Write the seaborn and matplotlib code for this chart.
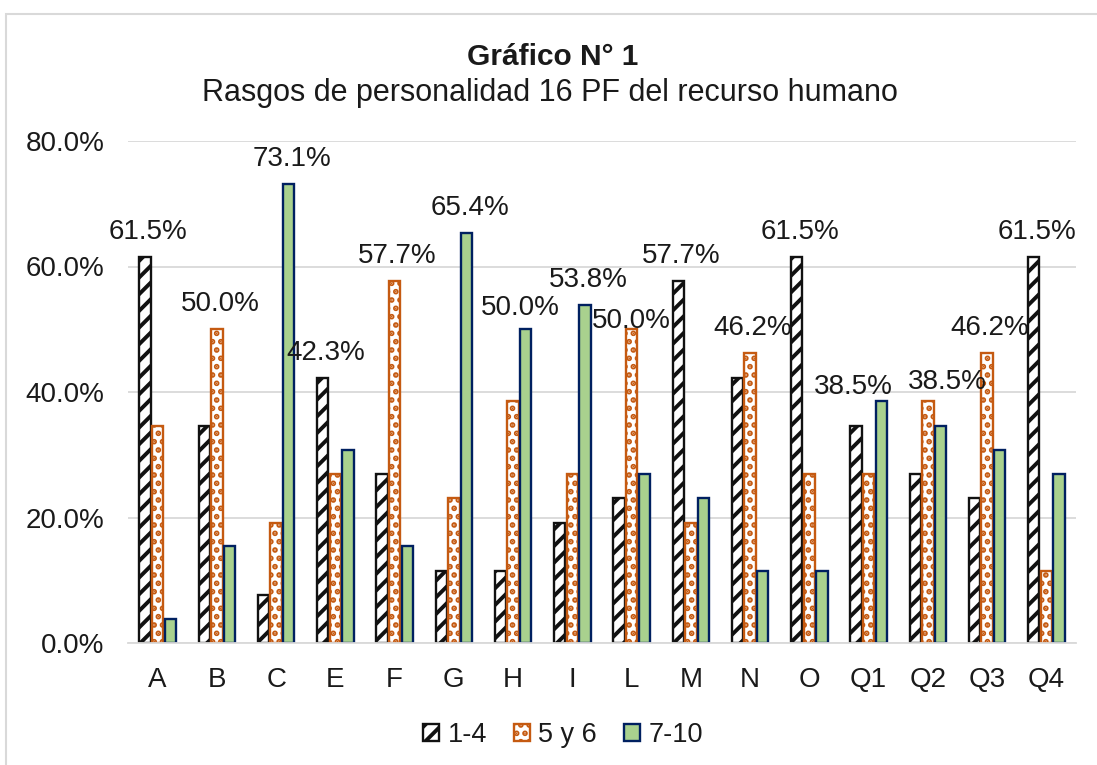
import matplotlib
matplotlib.use("Agg")
import matplotlib.pyplot as plt
from matplotlib.patches import Rectangle
from matplotlib.ticker import FuncFormatter
import seaborn as sns
import pandas as pd

# data (share of staff per score band)
factors = ["A", "B", "C", "E", "F", "G", "H", "I", "L", "M", "N", "O", "Q1", "Q2", "Q3", "Q4"]
bands = ["1-4", "5 y 6", "7-10"]
low = [61.5, 34.6, 7.7, 42.3, 26.9, 11.5, 11.5, 19.2, 23.1, 57.7, 42.3, 61.5, 34.6, 26.9, 23.1, 61.5]
mid = [34.6, 50.0, 19.2, 26.9, 57.7, 23.1, 38.5, 26.9, 50.0, 19.2, 46.2, 26.9, 26.9, 38.5, 46.2, 11.5]
high = [3.8, 15.4, 73.1, 30.8, 15.4, 65.4, 50.0, 53.8, 26.9, 23.1, 11.5, 11.5, 38.5, 34.6, 30.8, 26.9]

title = "Gráfico N° 1"
subtitle = "Rasgos de personalidad 16 PF del recurso humano"

rows = []
for band, vals in zip(bands, [low, mid, high]):
    for f, v in zip(factors, vals):
        rows.append({"factor": f, "band": band, "value": v / 100})
df = pd.DataFrame(rows)

sns.set_theme(style="white")
plt.rcParams["font.family"] = ["Liberation Sans", "DejaVu Sans"]
plt.rcParams["hatch.linewidth"] = 2.8

fig = plt.figure(figsize=(10.97, 7.65), dpi=100)
ax = fig.add_axes([128 / 1097, 1 - 643 / 765, (1076 - 128) / 1097, (643 - 141) / 765])

face = {"1-4": "white", "5 y 6": "white", "7-10": "#A9D18E"}
sns.barplot(data=df, x="factor", y="value", hue="band", order=factors, hue_order=bands,
            palette=face, width=0.64, gap=0.1, legend=False, ax=ax, saturation=1)

edge = ["#111111", "#C55A11", "#002060"]
hatches = ["//", "..", None]
for cont, ec, h in zip(ax.containers, edge, hatches):
    for p in cont.patches:
        p.set_edgecolor(ec)
        p.set_linewidth(1.7)
        if h:
            p.set_hatch(h)

ax.set_ylim(0, 0.8)
ax.set_xlim(-0.5, len(factors) - 0.5)
ax.set_yticks([0, 0.2, 0.4, 0.6, 0.8])
ax.yaxis.set_major_formatter(FuncFormatter(lambda v, _: f"{v * 100:.1f}%"))
ax.grid(axis="y", color="#D9D9D9", linewidth=1.3)
ax.set_axisbelow(True)
for s in ["top", "right", "left"]:
    ax.spines[s].set_visible(False)
ax.spines["bottom"].set_color("#D9D9D9")
ax.spines["bottom"].set_linewidth(1.3)
ax.tick_params(axis="both", length=0, labelsize=20, colors="#1a1a1a")
ax.tick_params(axis="y", pad=17)
ax.tick_params(axis="x", pad=17)
ax.set_xlabel("")
ax.set_ylabel("")

# label only the tallest bar in each group, a few nudged like the original
nudge = {"H": (-5, 21), "L": (0, 8), "Q1": (-28, 14), "Q2": (19, 19)}
for i, f in enumerate(factors):
    vals = [low[i], mid[i], high[i]]
    k = vals.index(max(vals))
    p = ax.containers[k].patches[i]
    dx, dy = nudge.get(f, (3, 25))
    ax.annotate(f"{vals[k]:.1f}%", (p.get_x() + p.get_width() / 2, p.get_height()),
                xytext=(dx, dy), textcoords="offset pixels", ha="center", va="center",
                fontsize=20, color="#1a1a1a")

fig.text(553 / 1097, 1 - 57 / 765, title, ha="center", va="center",
         fontsize=21.5, fontweight="bold", color="#1a1a1a")
fig.text(550 / 1097, 1 - 93 / 765, subtitle, ha="center", va="center",
         fontsize=22, color="#1a1a1a")

fig.legend(ax.containers, bands, loc="center", bbox_to_anchor=(563 / 1097, 1 - 735 / 765),
           ncol=3, frameon=False, fontsize=19.5, handlelength=0.6, handleheight=0.6,
           handletextpad=0.3, columnspacing=1.0, labelcolor="#1a1a1a")

fig.add_artist(Rectangle((6 / 1097, -0.05), 1.2, 1 - 14 / 765 + 0.05, transform=fig.transFigure,
                         fill=False, edgecolor="#D9D9D9", linewidth=1.5))

fig.savefig("out.png", dpi=100)
